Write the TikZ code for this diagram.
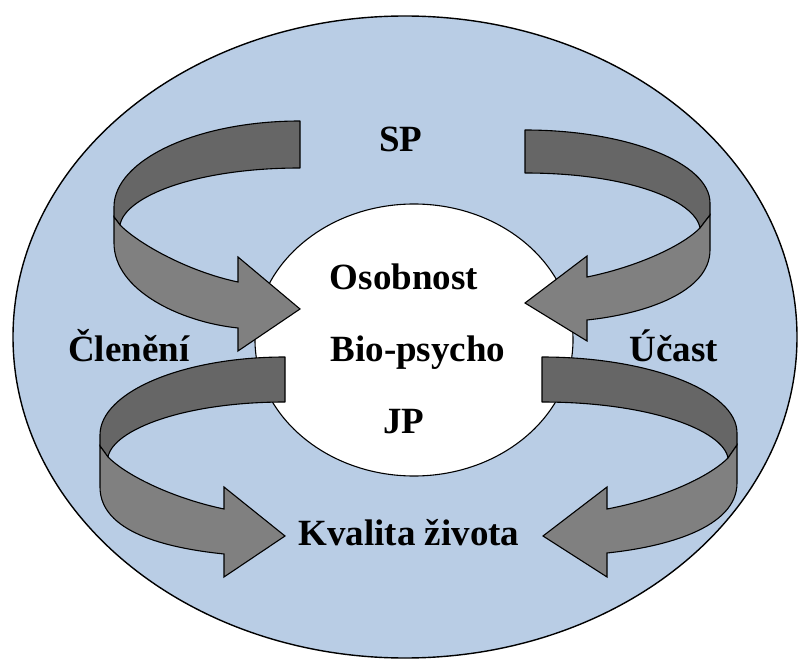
\documentclass[tikz,border=0pt]{standalone}
\usepackage{fontspec}
\setmainfont{Liberation Serif}
\begin{document}
\begin{tikzpicture}[x=1pt,y=-1pt,
  darkband/.style={fill=darkgrey,draw=black,line width=1.1pt,line join=round},
  lightband/.style={fill=lightgrey,draw=black,line width=1.1pt,line join=miter},
  lbl/.style={inner sep=0pt,font=\fontsize{37}{44}\selectfont\bfseries}]
\definecolor{bgblue}{HTML}{B9CDE5}
\definecolor{darkgrey}{HTML}{666666}
\definecolor{lightgrey}{HTML}{808080}
\useasboundingbox (0,0) rectangle (798,660);
% outer ellipse
\draw[fill=bgblue,line width=1.4pt] (405,337) ellipse [x radius=392, y radius=321];
% inner circle
\draw[fill=white,line width=1.1pt] (414,340) ellipse [x radius=159, y radius=136];
% top-left arrow
\path[darkband] (300,121) .. controls (197,121) and (114,160) .. (114,207) -- (114,217) -- (120,225) .. controls (125,196) and (197,168) .. (300,168) -- cycle;
\path[lightband] (120,225) .. controls (140,245) and (190,272) .. (238,282) -- (238,257) -- (300,309) -- (238,351) -- (238,328) .. controls (180,322) and (114,290) .. (114,243) -- (114,217) -- cycle;
% top-right arrow
\path[darkband] (525,130) .. controls (627,130) and (710,163) .. (710,203) -- (710,215) -- (700,228) .. controls (695,200) and (627,173) .. (525,173) -- cycle;
\path[lightband] (700,228) .. controls (680,248) and (632,268) .. (587,277) -- (587,256) -- (525,303) -- (587,341) -- (587,320) .. controls (645,314) and (710,292) .. (710,250) -- (710,215) -- cycle;
% bottom-left arrow
\path[darkband] (285,357) .. controls (183,357) and (100,392) .. (100,435) -- (100,446) -- (108,457) .. controls (113,430) and (183,402) .. (285,402) -- cycle;
\path[lightband] (108,457) .. controls (128,477) and (176,499) .. (224,509) -- (224,487) -- (285,536) -- (224,577) -- (224,554) .. controls (166,548) and (100,532) .. (100,487) -- (100,446) -- cycle;
% bottom-right arrow
\path[darkband] (542,357) .. controls (649,357) and (737,391) .. (737,433) -- (737,445) -- (728,458) .. controls (723,430) and (649,402) .. (542,402) -- cycle;
\path[lightband] (728,458) .. controls (708,478) and (660,499) .. (607,509) -- (607,487) -- (543,536) -- (607,577) -- (607,553) .. controls (665,547) and (737,528) .. (737,483) -- (737,445) -- cycle;
% labels
\node[lbl,anchor=base] (sp) at (401,152) {SP};
\node[lbl,anchor=base] (osob) at (404,290) {Osobnost};
\node[lbl,anchor=base] (bio) at (418,362) {Bio-psycho};
\node[lbl,anchor=base] (jp) at (404,433) {JP};
\node[lbl,anchor=base] (kval) at (409,545) {Kvalita života};
\node[lbl,anchor=base west] (clen) at (68,362) {Členění};
\node[lbl,anchor=base east] (ucast) at (718,362) {Účast};
\end{tikzpicture}
\end{document}
